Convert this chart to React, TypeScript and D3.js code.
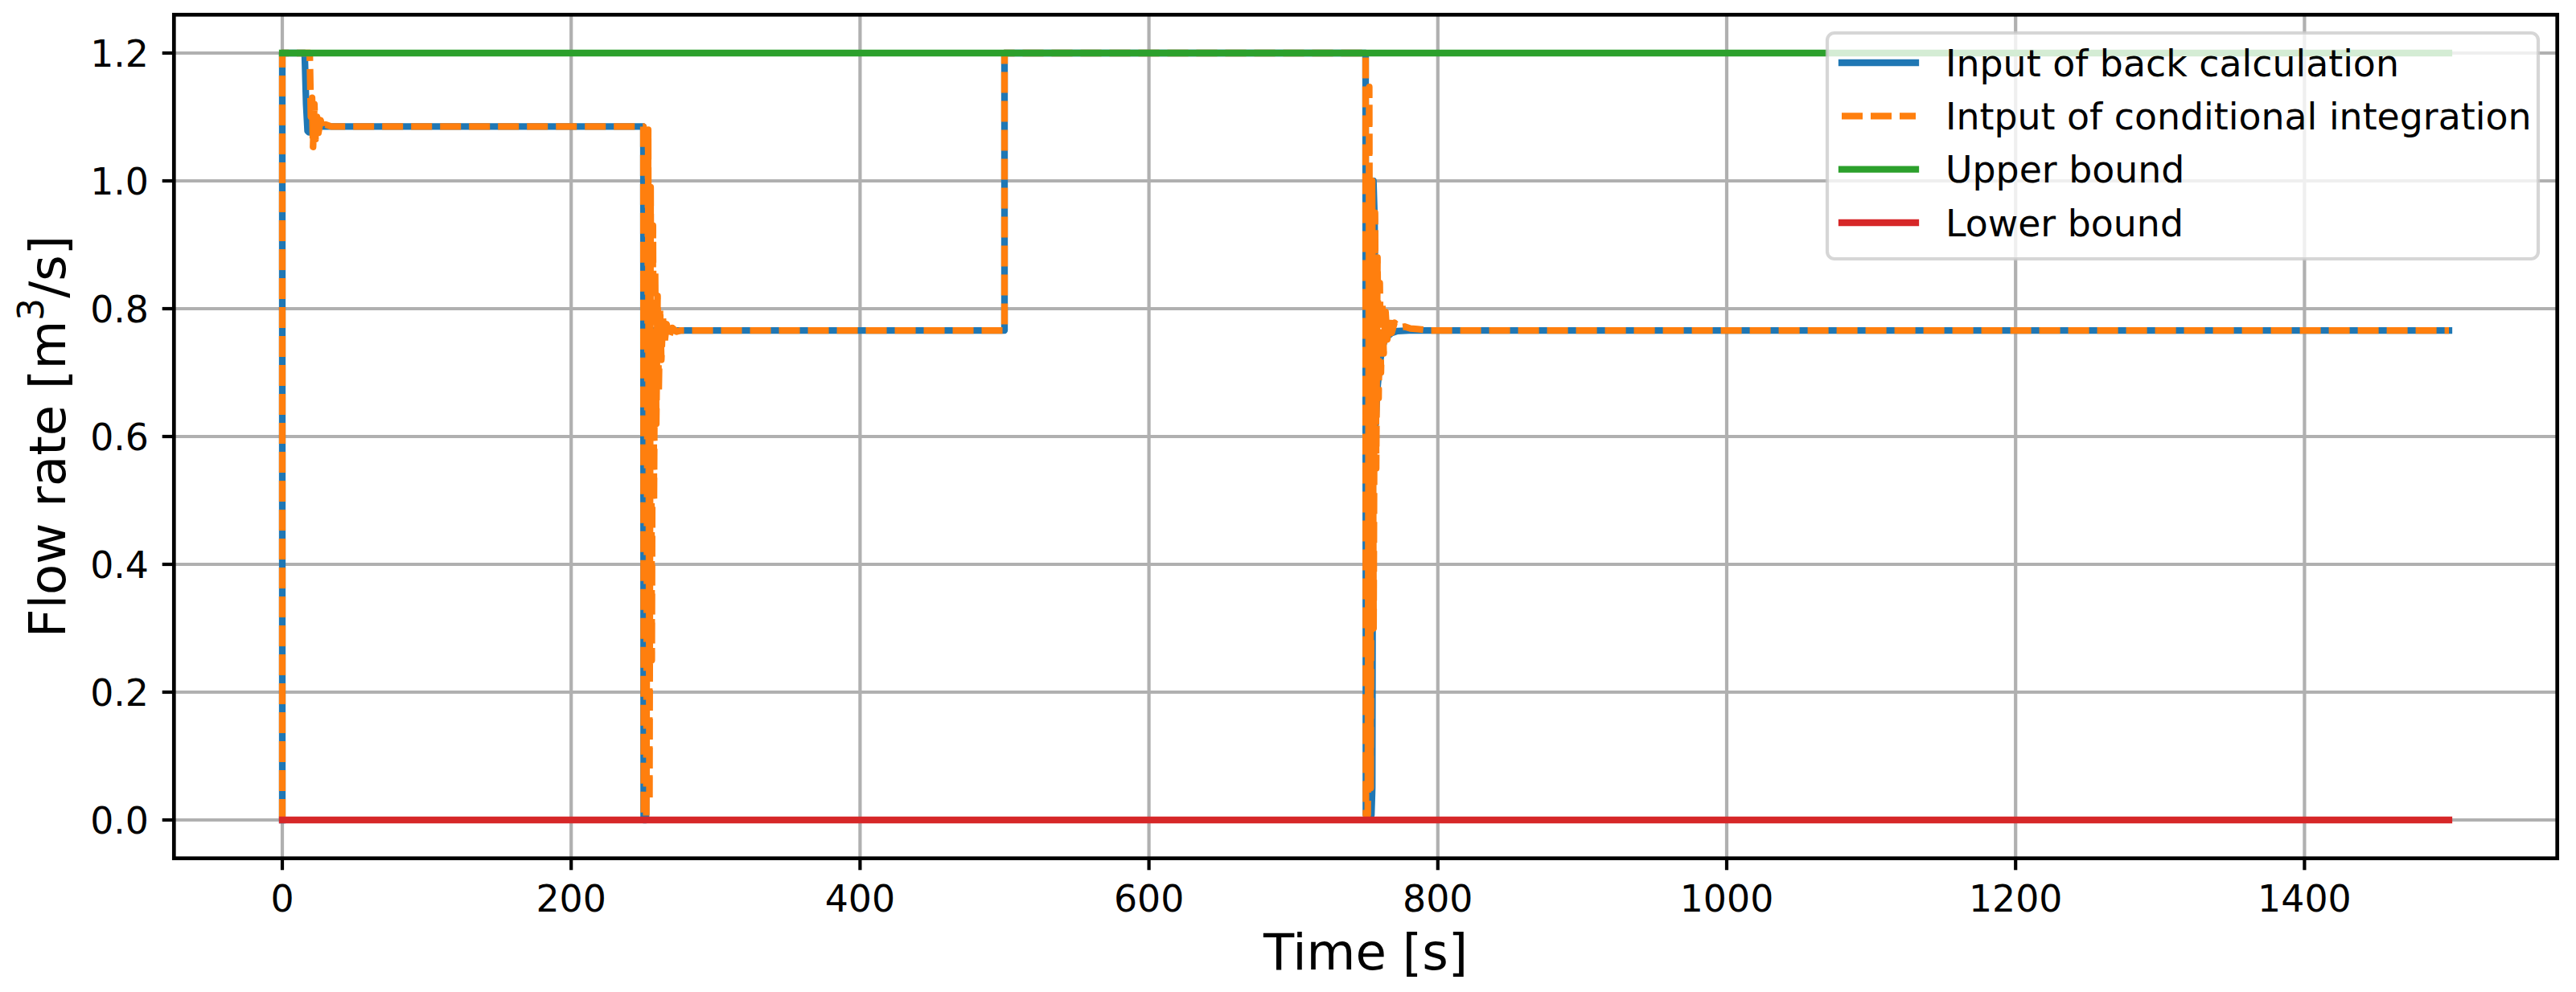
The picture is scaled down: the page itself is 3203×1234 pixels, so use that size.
import React from "react";
import * as d3 from "d3";

// chart values
const backCalcTime = [0, 0, 15.5, 16.5, 17.5, 18.5, 20, 23, 27, 250, 250.2, 251.8, 252.6, 254, 500, 500, 750, 750.2, 754, 754.6, 755.4, 756.2, 757, 758, 760, 761.5, 763, 765, 768, 772, 780, 1500];
const backCalcFlow = [0, 1.2, 1.2, 1.12, 1.078, 1.076, 1.08, 1.084, 1.085, 1.085, 0, 0, 0.772, 0.766, 0.766, 1.2, 1.2, 0.008, 0.008, 0.05, 1.0, 0.94, 0.62, 0.672, 0.717, 0.738, 0.749, 0.756, 0.762, 0.765, 0.766, 0.766];

const condIntTime = [0, 0, 19, 19.8, 20.6, 21.3, 22.2, 23, 24, 25, 26.5, 28, 30, 34, 250, 250.3, 252, 253.3, 254.2, 255, 255.8, 256.6, 257.3, 258.1, 258.9, 259.8, 260.6, 261.5, 262.4, 263.5, 264.6, 266, 268, 270, 273, 276, 500, 500, 750, 750.2, 751.5, 752.5, 753.5, 754.5, 755.5, 756.5, 757.3, 758.2, 759, 759.8, 760.6, 761.5, 762.5, 763.8, 765, 766.5, 768, 770, 773, 777, 781, 786, 795, 1500];
const condIntFlow = [0, 1.2, 1.2, 1.1, 1.13, 1.053, 1.12, 1.065, 1.1, 1.075, 1.095, 1.08, 1.088, 1.085, 1.085, 0.005, 0.005, 1.08, 0.03, 0.99, 0.25, 0.93, 0.5, 0.86, 0.62, 0.82, 0.67, 0.8, 0.72, 0.785, 0.745, 0.776, 0.758, 0.77, 0.764, 0.766, 0.766, 1.2, 1.2, 0.008, 0.008, 1.147, 0.05, 1.0, 0.3, 0.95, 0.55, 0.88, 0.66, 0.84, 0.7, 0.81, 0.73, 0.795, 0.752, 0.785, 0.762, 0.778, 0.771, 0.772, 0.769, 0.768, 0.766, 0.766];

const boundTime = [0, 1500];
const upperBound = [1.2, 1.2];
const lowerBound = [0, 0];

const xTicks = [0, 200, 400, 600, 800, 1000, 1200, 1400];
const yTicks = [0, 0.2, 0.4, 0.6, 0.8, 1.0, 1.2];

const seriesNames = [
  "Input of back calculation",
  "Intput of conditional integration",
  "Upper bound",
  "Lower bound",
];

const W = 3203;
const H = 1234;
const FONT = "DejaVu Sans, sans-serif";
const tickFs = 45.8;
const labelFs = 62.5;

const x = d3.scaleLinear().domain([-75, 1575]).range([216.3, 3179.7]);
const y = d3.scaleLinear().domain([-0.06, 1.26]).range([1067.7, 18.3]);

const line = d3
  .line<[number, number]>()
  .x(d => x(d[0]))
  .y(d => y(d[1]));

const series = [
  { name: seriesNames[0], pts: d3.zip(backCalcTime, backCalcFlow), color: "#1f77b4", dash: null },
  { name: seriesNames[1], pts: d3.zip(condIntTime, condIntFlow), color: "#ff7f0e", dash: "26 10" },
  { name: seriesNames[2], pts: d3.zip(boundTime, upperBound), color: "#2ca02c", dash: null },
  { name: seriesNames[3], pts: d3.zip(boundTime, lowerBound), color: "#d62728", dash: null },
];

const App = () => {
  const [x0, x1] = x.range();
  const [y0, y1] = y.range();
  const legendX = 2272;
  const legendY = 41;
  const legendW = 3156 - 2272;
  const legendH = 281;
  const rowY = [78, 144.3, 210.6, 277];

  return (
    <svg
      width={W}
      height={H}
      style={{ position: "absolute", left: 0, top: 0, display: "block", background: "#fff" }}
      fontFamily={FONT}
    >
      <defs>
        <clipPath id="plotArea">
          <rect x={x0} y={y1} width={x1 - x0} height={y0 - y1} />
        </clipPath>
      </defs>

      {/* grid */}
      <g stroke="#b0b0b0" strokeWidth={4.2}>
        {xTicks.map(t => (
          <line key={"gx" + t} x1={x(t)} x2={x(t)} y1={y1} y2={y0} />
        ))}
        {yTicks.map(t => (
          <line key={"gy" + t} x1={x0} x2={x1} y1={y(t)} y2={y(t)} />
        ))}
      </g>

      {/* series */}
      <g clipPath="url(#plotArea)" fill="none">
        {series.map(s => (
          <path
            key={s.name}
            d={line(s.pts as [number, number][]) || ""}
            stroke={s.color}
            strokeWidth={8.3}
            strokeLinejoin="round"
            strokeLinecap={s.dash ? "butt" : "square"}
            strokeDasharray={s.dash || undefined}
          />
        ))}
      </g>

      {/* spines */}
      <rect x={x0} y={y1} width={x1 - x0} height={y0 - y1} fill="none" stroke="#000" strokeWidth={4.7} />

      {/* x ticks */}
      <g>
        {xTicks.map(t => (
          <g key={"xt" + t}>
            <line x1={x(t)} x2={x(t)} y1={y0} y2={y0 + 14.6} stroke="#000" strokeWidth={4.2} />
            <text x={x(t)} y={1134} fontSize={tickFs} textAnchor="middle" fill="#000">
              {t}
            </text>
          </g>
        ))}
      </g>

      {/* y ticks */}
      <g>
        {yTicks.map(t => (
          <g key={"yt" + t}>
            <line x1={x0} x2={x0 - 14.6} y1={y(t)} y2={y(t)} stroke="#000" strokeWidth={4.2} />
            <text x={185} y={y(t) + 17} fontSize={tickFs} textAnchor="end" fill="#000">
              {d3.format(".1f")(t)}
            </text>
          </g>
        ))}
      </g>

      {/* axis labels */}
      <text x={(x0 + x1) / 2} y={1206} fontSize={labelFs} textAnchor="middle" fill="#000">
        Time [s]
      </text>
      <text
        transform={`translate(81, ${(y0 + y1) / 2}) rotate(-90)`}
        fontSize={labelFs}
        textAnchor="middle"
        fill="#000"
      >
        Flow rate [m
        <tspan fontSize={labelFs * 0.7} dy={-27}>3</tspan>
        <tspan dy={27}>/s]</tspan>
      </text>

      {/* legend */}
      <g>
        <rect
          x={legendX}
          y={legendY}
          width={legendW}
          height={legendH}
          rx={9}
          ry={9}
          fill="#fff"
          fillOpacity={0.8}
          stroke="#cccccc"
          strokeOpacity={0.8}
          strokeWidth={4.2}
        />
        {series.map((s, i) => (
          <g key={"lg" + s.name}>
            <line
              x1={2290}
              x2={2382}
              y1={rowY[i]}
              y2={rowY[i]}
              stroke={s.color}
              strokeWidth={8.3}
              strokeLinecap={s.dash ? "butt" : "square"}
              strokeDasharray={s.dash || undefined}
            />
            <text x={2419} y={rowY[i] + 16.7} fontSize={tickFs} fill="#000">
              {s.name}
            </text>
          </g>
        ))}
      </g>
    </svg>
  );
};

export default App;
